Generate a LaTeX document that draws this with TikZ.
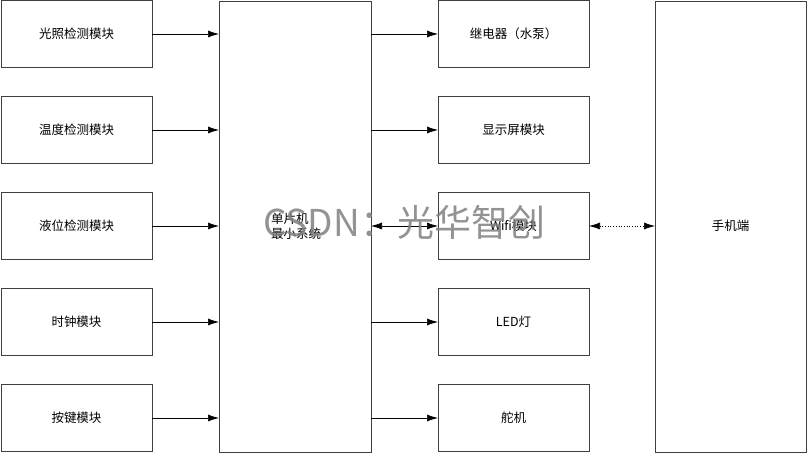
\documentclass[tikz,border=0pt]{standalone}
\usepackage{fontspec}
\setmainfont{Noto Sans CJK SC}
\usetikzlibrary{arrows.meta}
\begin{document}
\begin{tikzpicture}[x=1pt,y=-1pt,
 box/.style={draw=black!75,line width=0.8pt,inner sep=0},
 lbl/.style={font=\fontsize{12.5}{15}\selectfont},
 arr/.style={-{Latex[length=11pt,width=7pt]},line width=0.7pt},
 barr/.style={{Latex[length=11pt,width=7pt]}-{Latex[length=11pt,width=7pt]},line width=0.7pt}]
\path[use as bounding box] (0,0) rectangle (807,454);
\def\ys{{34,130,226,322,418}}
\foreach \n/\t [count=\i from 0] in {L0/光照检测模块,L1/温度检测模块,L2/液位检测模块,L3/时钟模块,L4/按键模块}{
 \pgfmathsetmacro\yy{\ys[\i]}
 \draw[box] (1,\yy-33.5) rectangle (152,\yy+33.5);
 \node[lbl] (\n) at (76.5,\yy) {\t};
}
\foreach \n/\t [count=\i from 0] in {R0/继电器（水泵）,R1/显示屏模块,R2/Wifi模块,R3/LED灯,R4/舵机}{
 \pgfmathsetmacro\yy{\ys[\i]}
 \draw[box] (438,\yy-33.5) rectangle (589,\yy+33.5);
 \node[lbl] (\n) at (513.5,\yy) {\t};
}
\draw[box] (219,1) rectangle (371,452);
\node[lbl,align=left] (C) at (296,226) {单片机\\最小系统};
\draw[box] (655,1) rectangle (806,452);
\node[lbl] (P) at (730.5,226) {手机端};
\foreach \i in {0,...,4}{
 \pgfmathsetmacro\yy{\ys[\i]}
 \coordinate (a\i) at (152,\yy); \coordinate (b\i) at (219,\yy);
 \coordinate (c\i) at (371,\yy); \coordinate (d\i) at (438,\yy);
 \draw[arr] (a\i) -- (b\i);
}
\draw[arr] (c0) -- (d0);
\draw[arr] (c1) -- (d1);
\draw[barr] (c2) -- (d2);
\draw[arr] (c3) -- (d3);
\draw[arr] (c4) -- (d4);
\coordinate (e) at (589,226); \coordinate (f) at (655,226);
\draw[barr,dotted] (e) -- (f);
\node[text=black!50,opacity=0.85,font=\fontsize{37}{40}\selectfont,anchor=west,inner sep=0] (W) at (263,222) {CSDN：光华智创};
\end{tikzpicture}
\end{document}
